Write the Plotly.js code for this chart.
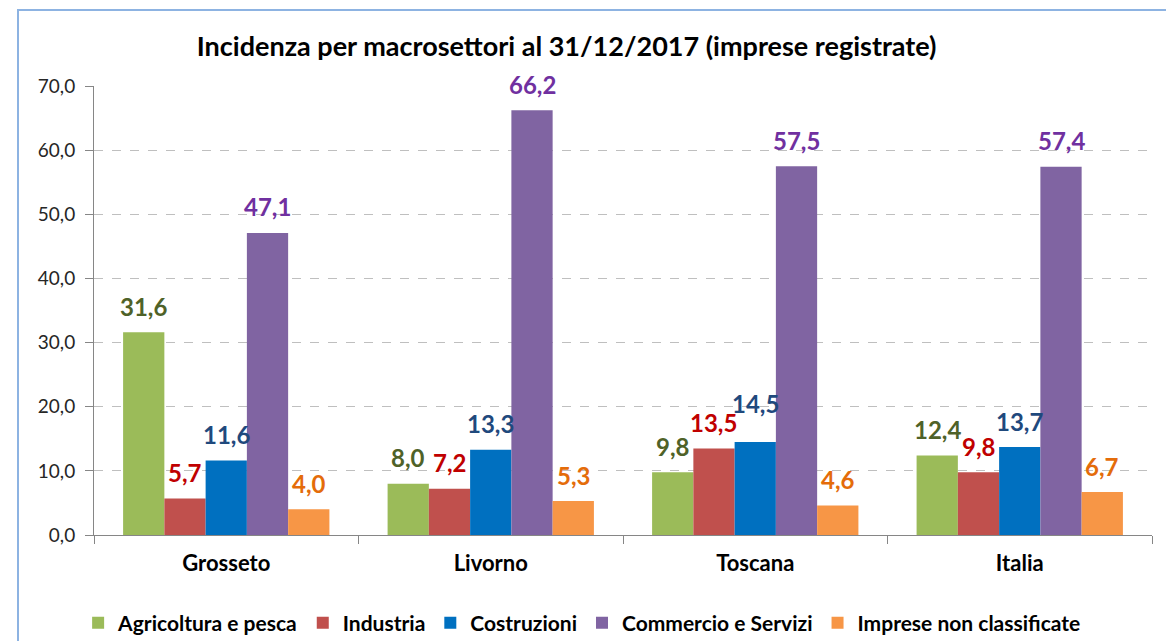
<!DOCTYPE html>
<html>
<head>
<meta charset="utf-8">
<script src="https://cdn.plot.ly/plotly-3.0.1.min.js"></script>
<style>
  html, body { margin: 0; padding: 0; background: #ffffff; }
  #chart { width: 1166px; height: 641px; position: absolute; left: 0; top: 0; }
  #frame { position: absolute; left: 17px; top: 9px; width: 1160px; height: 640px;
           border-left: 2px solid #8DB3E2; border-top: 2px solid #8DB3E2; pointer-events: none; }
</style>
</head>
<body>
<div id="chart"></div>
<div id="frame"></div>
<script>
const categories = ["Grosseto", "Livorno", "Toscana", "Italia"];
const seriesNames = ["Agricoltura e pesca", "Industria", "Costruzioni", "Commercio e Servizi", "Imprese non classificate"];
const agricoltura = [31.6, 8.0, 9.8, 12.4];
const industria = [5.7, 7.2, 13.5, 9.8];
const costruzioni = [11.6, 13.3, 14.5, 13.7];
const commercio = [47.1, 66.2, 57.5, 57.4];
const nonClassificate = [4.0, 5.3, 4.6, 6.7];
const yTicks = [0, 10, 20, 30, 40, 50, 60, 70];

const barColors = ["#9BBB59", "#C0504D", "#0070C0", "#8064A2", "#F79646"];
const labelColors = ["#4F6228", "#C00000", "#1F497D", "#7030A0", "#E46C0A"];
const seriesValues = [agricoltura, industria, costruzioni, commercio, nonClassificate];

const FONT = "Lato, 'Open Sans', sans-serif";
const BARGAP = 0.22;
const nSeries = seriesValues.length;
const barW = (1 - BARGAP) / nSeries;

// extra lift (px) for labels that the original moved to avoid overlaps: [series, category]
const extraLift = { "2,2": 12 };

const traces = seriesValues.map((vals, i) => ({
  type: "bar",
  name: seriesNames[i],
  x: categories,
  y: vals,
  marker: { color: barColors[i], line: { width: 0 } },
  hoverinfo: "skip"
}));

const fmt = v => v.toFixed(1).replace(".", ",");
const annotations = [];
seriesValues.forEach((vals, i) => {
  vals.forEach((v, c) => {
    annotations.push({
      xref: "x", yref: "y",
      x: c + (i - (nSeries - 1) / 2) * barW,
      y: v,
      text: fmt(v),
      showarrow: false,
      xanchor: "center", yanchor: "middle",
      yshift: 26 + (extraLift[i + "," + c] || 0),
      font: { family: FONT, size: 24, color: labelColors[i], weight: "bold" }
    });
  });
});

const layout = {
  width: 1166,
  height: 641,
  margin: { l: 94, r: 14, t: 86, b: 106, autoexpand: false },
  paper_bgcolor: "#ffffff",
  plot_bgcolor: "#ffffff",
  separators: ",.",
  barmode: "group",
  bargap: BARGAP,
  bargroupgap: 0,
  showlegend: true,
  annotations: annotations,
  title: {
    text: "Incidenza per macrosettori al 31/12/2017 (imprese registrate)",
    font: { family: FONT, size: 27, color: "#000000", weight: "bold" },
    x: 0.486, xanchor: "center", xref: "container",
    y: 0.927, yanchor: "middle", yref: "container"
  },
  xaxis: {
    type: "category",
    range: [-0.5, 3.5],
    showline: true,
    linecolor: "#868686",
    linewidth: 1,
    ticks: "outside",
    tickson: "boundaries",
    ticklen: 8,
    tickcolor: "#868686",
    ticklabelstandoff: 9,
    showgrid: false,
    tickfont: { family: FONT, size: 22, color: "#000000", weight: "bold" },
    fixedrange: true
  },
  yaxis: {
    range: [0, 70],
    tickvals: yTicks,
    tickformat: ".1f",
    showline: true,
    linecolor: "#868686",
    linewidth: 1,
    ticks: "outside",
    ticklen: 8,
    tickcolor: "#868686",
    ticklabelstandoff: 6,
    showgrid: true,
    gridcolor: "#BFBFBF",
    griddash: "dash",
    gridwidth: 1,
    zeroline: false,
    tickfont: { family: FONT, size: 19, color: "#262626" },
    fixedrange: true
  },
  legend: {
    orientation: "h",
    xref: "container", yref: "container",
    x: 0.067, xanchor: "left",
    y: 0.028, yanchor: "middle",
    font: { family: FONT, size: 21, color: "#000000", weight: "bold" },
    itemclick: false,
    itemdoubleclick: false,
    traceorder: "normal"
  }
};

Plotly.newPlot("chart", traces, layout, { displayModeBar: false, staticPlot: true });
</script>
</body>
</html>
